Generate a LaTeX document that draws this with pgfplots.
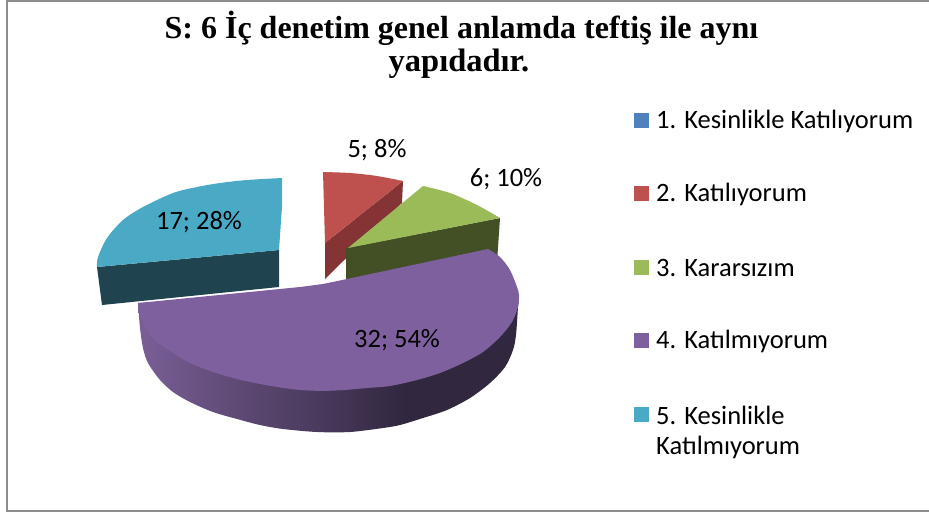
\documentclass[border=0pt]{standalone}
\usepackage{fontspec}
\setmainfont{Carlito}
\newfontfamily\titlefont{Liberation Serif}
\usepackage{pgfplots}
\pgfplotsset{compat=1.18}
\definecolor{cBlue}{HTML}{4F81BD}
\definecolor{cRed}{HTML}{BE504E}
\definecolor{cRedS}{HTML}{843434}
\definecolor{cGreen}{HTML}{9BBB59}
\definecolor{cGreenS}{HTML}{434F25}
\definecolor{cPurple}{HTML}{7F609E}
\definecolor{cTeal}{HTML}{4AAAC5}
\definecolor{cTealS}{HTML}{1F444F}
\definecolor{cFrame}{HTML}{8C8C8C}
\definecolor{HTMLa}{HTML}{7A5F97}
\definecolor{HTMLb}{HTML}{5E4A75}
\definecolor{HTMLc}{HTML}{47385A}
\definecolor{HTMLd}{HTML}{31273F}
\pgfdeclarehorizontalshading{purpleside}{100bp}{
 color(0bp)=(HTMLa);color(25bp)=(HTMLa);color(38bp)=(HTMLb);color(50bp)=(HTMLc);color(60bp)=(HTMLd);color(75bp)=(HTMLd);color(100bp)=(HTMLd)}
\newcommand{\lab}[1]{\fontsize{26.5}{32}\selectfont #1}
\begin{document}
\begin{tikzpicture}
\begin{axis}[
  scale only axis, width=929pt, height=512pt,
  xmin=0, xmax=929, ymin=0, ymax=512, y dir=reverse,
  axis lines=none, clip=true,
  every axis plot/.append style={no markers, draw=none}
]
% full extent
\addplot[draw=none] coordinates {(0,0)(929,512)};
% frame
\addplot[draw=cFrame, line width=2pt] coordinates {(929,1)(7,1)(7,511)(929,511)};
% slice 5: teal
\addplot[fill=cTealS] coordinates {(97,267)(279,250)(279,287)(102,305)};
\addplot[fill=cTeal, smooth] coordinates {(282,178)(247,180)(220,183)(197,187)(173,193)(143,207)(123,220)(107,238)(98,257)(97,267)};
\addplot[fill=cTeal] coordinates {(282,178)(200,192)(120,230)(97,267)(279,250)(282,207)};
% slice 2: red
\addplot[fill=cRedS] coordinates {(325,243)(403,181)(402,203)(325,279)};
\addplot[fill=cRed, smooth] coordinates {(323,172)(350,173)(377,176)(403,181)};
\addplot[fill=cRed] coordinates {(323,172)(360,175)(403,181)(325,243)};
% slice 3: green
\addplot[fill=cGreenS] coordinates {(346,248)(500,218)(497,262)(346,290)};
\addplot[fill=cGreen, smooth] coordinates {(423,186)(450,193)(477,205)(500,218)};
\addplot[fill=cGreen] coordinates {(348,248)(423,186)(460,198)(500,218)};
% slice 4: purple side and top
\addplot[shading=purpleside, smooth] coordinates {(138,303)(140,328)(143,348)(148,363)(160,380)(173,392)(190,402)(213,412)(237,419)(260,425)(283,429)(317,432)(350,432)(383,428)(400,425)(423,418)(447,410)(470,398)(490,383)(505,367)(513,350)(516,335)(518,307)(519,295)};
\addplot[fill=cPurple, smooth] coordinates {(488,249)(500,257)(510,270)(517,287)(519,295)(518,307)(512,322)(500,337)(483,352)(463,363)(440,373)(417,380)(390,386)(367,388)(345,390)(323,391)};
\addplot[fill=cPurple, smooth] coordinates {(323,391)(300,390)(277,387)(255,383)(237,379)(213,372)(190,363)(173,353)(157,342)(147,330)(140,315)(138,303)};
\addplot[fill=cPurple] coordinates {(488,249)(505,300)(440,360)(323,391)(220,365)(138,303)(300,287)(323,284)(347,279)};
% legend keys
\addplot[fill=cBlue] coordinates {(634,113)(649,113)(649,128)(634,128)};
\addplot[fill=cRed] coordinates {(634,186)(649,186)(649,201)(634,201)};
\addplot[fill=cGreen] coordinates {(634,260)(649,260)(649,275)(634,275)};
\addplot[fill=cPurple] coordinates {(634,333)(649,333)(649,348)(634,348)};
\addplot[fill=cTeal] coordinates {(634,407)(649,407)(649,422)(634,422)};
% legend text
\node[anchor=west, inner sep=0pt] at (axis cs:656,121) {\lab{1. Kesinlikle Katılıyorum}};
\node[anchor=west, inner sep=0pt] at (axis cs:656,194) {\lab{2. Katılıyorum}};
\node[anchor=west, inner sep=0pt] at (axis cs:656,268) {\lab{3. Kararsızım}};
\node[anchor=west, inner sep=0pt] at (axis cs:656,341) {\lab{4. Katılmıyorum}};
\node[anchor=west, inner sep=0pt] at (axis cs:656,415) {\lab{5. Kesinlikle}};
\node[anchor=west, inner sep=0pt] at (axis cs:656,447) {\lab{Katılmıyorum}};
% data labels
\node[inner sep=0pt] at (axis cs:199,222) {\lab{17; 28\%}};
\node[inner sep=0pt] at (axis cs:377,150) {\lab{5; 8\%}};
\node[inner sep=0pt] at (axis cs:506,179) {\lab{6; 10\%}};
\node[inner sep=0pt] at (axis cs:397,340) {\lab{32; 54\%}};
% title
\node[inner sep=0pt] at (axis cs:461.5,28) {\titlefont\bfseries\fontsize{32}{36}\selectfont S: 6 İç denetim genel anlamda teftiş ile aynı};
\node[inner sep=0pt] at (axis cs:459,64) {\titlefont\bfseries\fontsize{32.5}{36}\selectfont yapıdadır.};
\end{axis}
\end{tikzpicture}
\end{document}
